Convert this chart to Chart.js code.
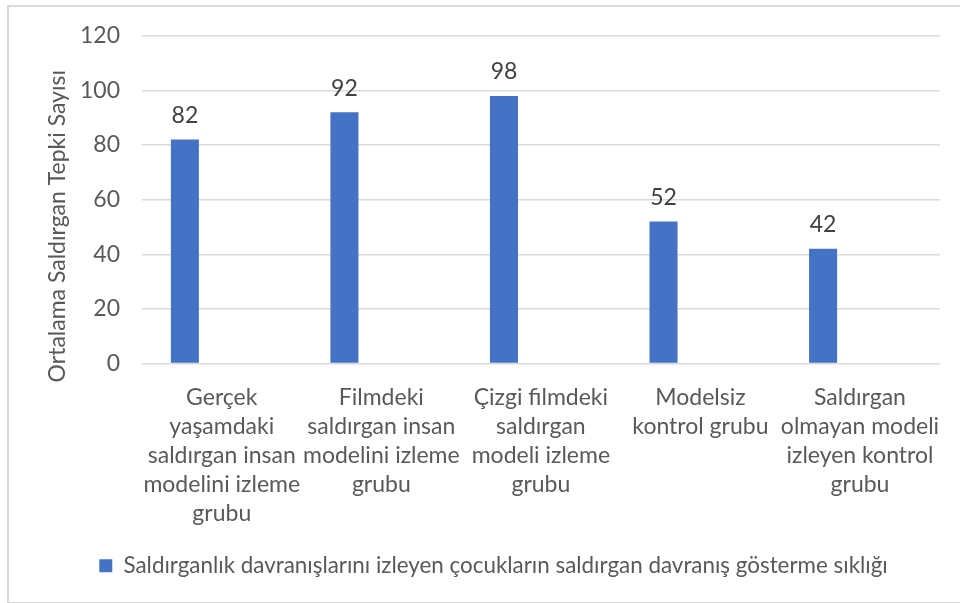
<!DOCTYPE html>
<html>
<head>
<meta charset="utf-8">
<script src="https://cdn.jsdelivr.net/npm/chart.js@4"></script>
<style>
  html, body { margin: 0; padding: 0; background: #fff; }
  #wrap { position: relative; width: 960px; height: 603px; }
  #frame { position: absolute; left: 7px; top: 5px; width: 960px; height: 595px;
           border-left: 2px solid #d9d9d9; border-top: 2px solid #d9d9d9; border-bottom: 2px solid #d9d9d9; }
  canvas { position: absolute; left: 0; top: 0; }
</style>
</head>
<body>
<div id="wrap">
  <div id="frame"></div>
  <canvas id="myChart" width="960" height="603"></canvas>
</div>
<script>
// veriler
const categories = [
    ['Gerçek', 'yaşamdaki', 'saldırgan insan', 'modelini izleme', 'grubu'],
    ['Filmdeki', 'saldırgan insan', 'modelini izleme', 'grubu'],
    ['Çizgi filmdeki', 'saldırgan', 'modeli izleme', 'grubu'],
    ['Modelsiz', 'kontrol grubu'],
    ['Saldırgan', 'olmayan modeli', 'izleyen kontrol', 'grubu']
];
const seriesName = 'Saldırganlık davranışlarını izleyen çocukların saldırgan davranış gösterme sıklığı';
const values = [82, 92, 98, 52, 42];
const emptySeries = [null, null, null, null, null];
const yTicks = [0, 20, 40, 60, 80, 100, 120];
const yTitle = 'Ortalama Saldırgan Tepki Sayısı';

const FONT = 'Lato, "Noto Sans", sans-serif';
const FS = 23;

// etiketleri çubukların üstüne yaz
const barLabels = {
    id: 'barLabels',
    afterLayout(chart) {
        // lejant biraz sağda duruyor
        if (chart.legend) {
            chart.legend.left += 23;
            chart.legend.right += 23;
        }
    },
    afterDatasetsDraw(chart) {
        const ctx = chart.ctx;
        const meta = chart.getDatasetMeta(0);
        ctx.save();
        ctx.font = FS + 'px ' + FONT;
        ctx.fillStyle = '#404040';
        ctx.textAlign = 'center';
        ctx.textBaseline = 'middle';
        meta.data.forEach((bar, i) => {
            ctx.fillText(values[i], bar.x, bar.y - 24);
        });
        ctx.restore();
    }
};

const ctx = document.getElementById('myChart').getContext('2d');
const myChart = new Chart(ctx, {
    type: 'bar',
    data: {
        labels: categories,
        datasets: [{
            label: seriesName,
            data: values,
            backgroundColor: '#4472C4',
            borderWidth: 0,
            categoryPercentage: 0.925,
            barPercentage: 0.38
        }, {
            label: '',
            data: emptySeries,
            backgroundColor: '#ED7D31',
            categoryPercentage: 0.925,
            barPercentage: 0.38
        }]
    },
    options: {
        responsive: false,
        animation: false,
        layout: { padding: { left: 0, right: 19, top: 35, bottom: 16 } },
        plugins: {
            tooltip: { enabled: false },
            legend: {
                position: 'bottom',
                labels: {
                    filter: (item) => item.datasetIndex === 0,
                    boxWidth: 13,
                    boxHeight: 13,
                    color: '#595959',
                    padding: 8,
                    font: { family: FONT, size: 22.4 }
                }
            }
        },
        scales: {
            x: {
                grid: { display: false, drawTicks: false },
                border: { display: false },
                ticks: {
                    color: '#595959',
                    maxRotation: 0,
                    autoSkip: false,
                    padding: 19,
                    font: { family: FONT, size: FS, lineHeight: 29 / FS }
                },
                afterFit: (scale) => { scale.height = 183; }
            },
            y: {
                min: 0,
                max: 120,
                afterBuildTicks: (scale) => { scale.ticks = yTicks.map(v => ({ value: v })); },
                grid: { color: '#d9d9d9', lineWidth: 1.5, drawTicks: false },
                border: { display: false },
                ticks: {
                    color: '#595959',
                    padding: 22,
                    font: { family: FONT, size: FS }
                },
                title: {
                    display: true,
                    text: yTitle + '         ',
                    color: '#595959',
                    padding: { top: 44, bottom: 0 },
                    font: { family: FONT, size: FS }
                },
                afterFit: (scale) => { scale.width = 142; }
            }
        }
    },
    plugins: [barLabels]
});
</script>
</body>
</html>
